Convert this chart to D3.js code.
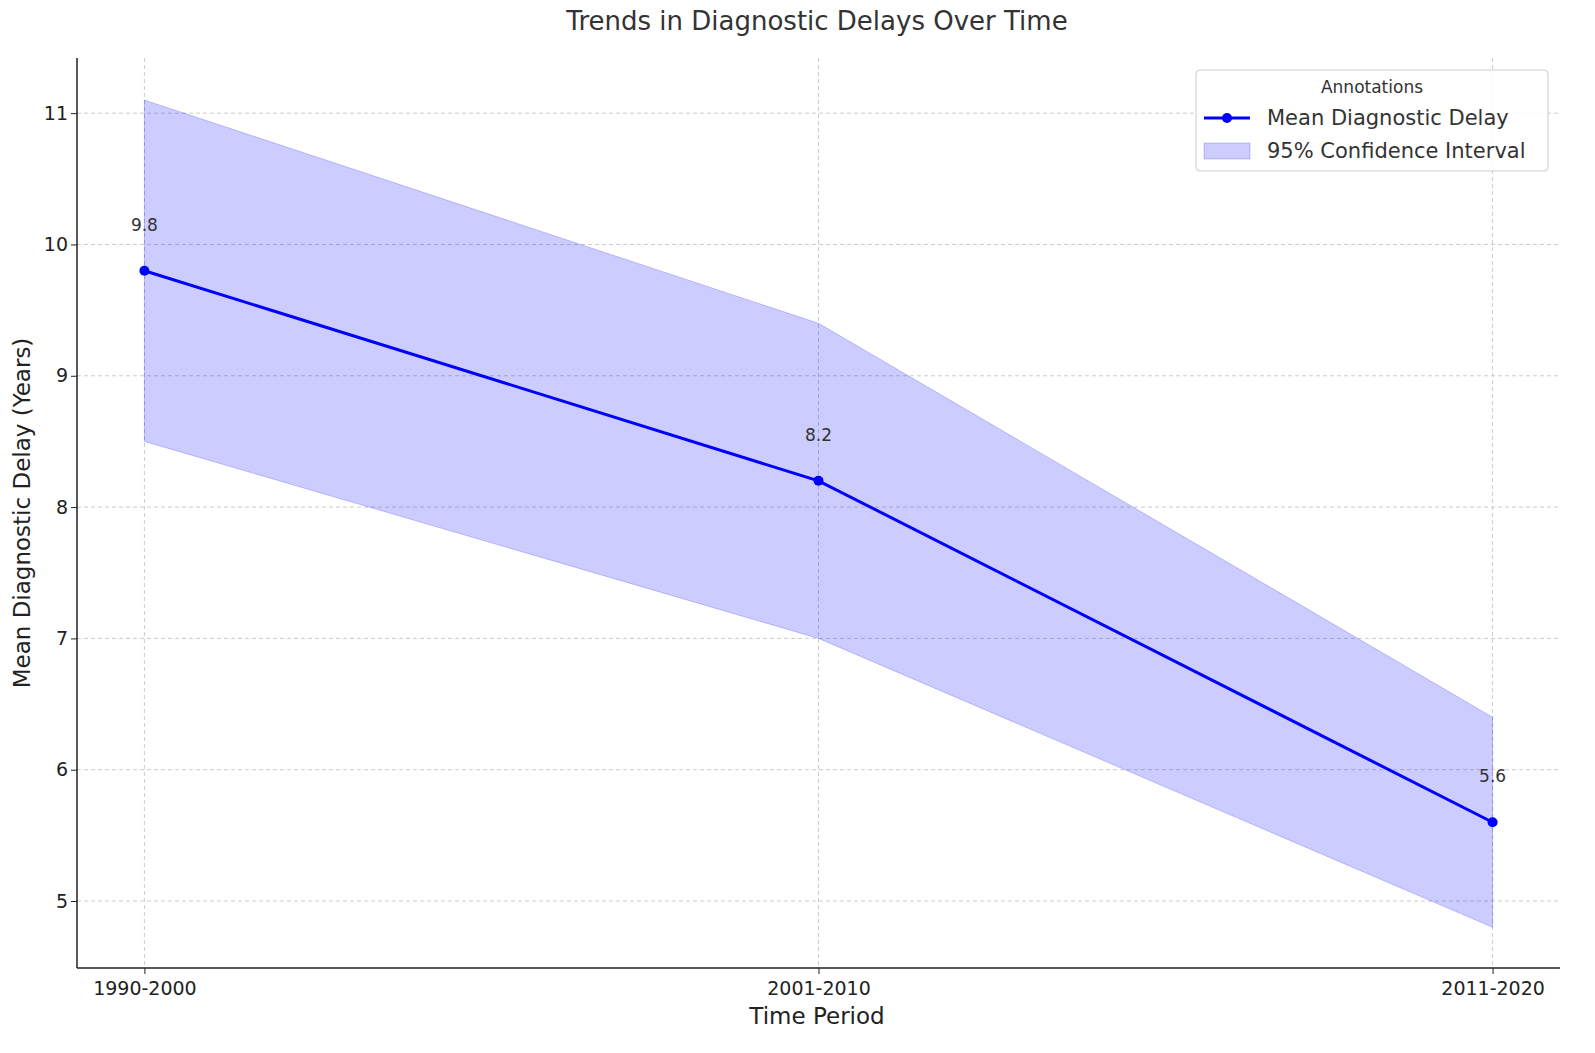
<!DOCTYPE html>
<html><head><meta charset="utf-8">
<script src="https://cdn.jsdelivr.net/npm/d3@7"></script>
<style>html,body{margin:0;padding:0;overflow:hidden;background:#fff;font-family:"DejaVu Sans",sans-serif;}svg{display:block;}</style>
</head><body><svg id="chart" width="1595" height="1053"></svg>
<script>
let periods = ['1990-2000', '2001-2010', '2011-2020'];
let meanDelay = [9.8, 8.2, 5.6];
let ciLower = [8.5, 7.0, 4.8];
let ciUpper = [11.1, 9.4, 6.4];
let yTicks = [5, 6, 7, 8, 9, 10, 11];

let svg = d3.select('#chart');
let m = {left: 77, right: 1560, top: 58, bottom: 968};
let data = periods.map((p, i) => ({p: p, v: meanDelay[i], lo: ciLower[i], hi: ciUpper[i]}));

let x = d3.scalePoint().domain(periods).range([m.left, m.right]).padding(0.1);
let y = d3.scaleLinear().domain([4.49, 11.42]).range([m.bottom, m.top]);

/* grid */
svg.append('g').selectAll('line').data(yTicks).join('line')
    .attr('x1', m.left).attr('x2', m.right)
    .attr('y1', d => y(d)).attr('y2', d => y(d))
    .attr('stroke', '#ccc').attr('stroke-dasharray', '4,3');
svg.append('g').selectAll('line').data(periods).join('line')
    .attr('x1', d => x(d)).attr('x2', d => x(d))
    .attr('y1', m.top).attr('y2', m.bottom)
    .attr('stroke', '#ccc').attr('stroke-dasharray', '4,3');

/* confidence band */
svg.append('path').datum(data)
    .attr('d', d3.area().x(d => x(d.p)).y0(d => y(d.lo)).y1(d => y(d.hi)))
    .attr('fill', 'rgba(0,0,255,0.2)').attr('stroke', 'rgba(0,0,255,0.2)');

/* mean line */
svg.append('path').datum(data)
    .attr('d', d3.line().x(d => x(d.p)).y(d => y(d.v)))
    .attr('fill', 'none').attr('stroke', '#0000ff').attr('stroke-width', 3);
svg.append('g').selectAll('circle').data(data).join('circle')
    .attr('cx', d => x(d.p)).attr('cy', d => y(d.v)).attr('r', 5).attr('fill', '#0000ff');
svg.append('g').selectAll('text').data(data).join('text')
    .attr('x', d => x(d.p)).attr('y', d => y(d.v) - 40)
    .attr('text-anchor', 'middle').attr('font-size', 17).attr('fill', '#333')
    .text(d => d.v.toFixed(1));

/* axes */
let xAxis = svg.append('g').attr('transform', `translate(0,${m.bottom})`)
    .call(d3.axisBottom(x).tickSizeOuter(0).tickSize(6));
xAxis.select('.domain').attr('d', `M${m.left},0H${m.right}`);
let yAxis = svg.append('g').attr('transform', `translate(${m.left},0)`)
    .call(d3.axisLeft(y).tickValues(yTicks).tickFormat(d3.format('d')).tickSizeOuter(0).tickSize(6));
yAxis.select('.domain').attr('d', `M0,${m.top}V${m.bottom}`);
[xAxis, yAxis].forEach(a => {
    a.selectAll('text').attr('font-size', 19).attr('fill', '#222').attr('font-family', 'DejaVu Sans');
    a.select('.domain').attr('stroke', '#222').attr('stroke-width', 1.5);
    a.selectAll('.tick line').attr('stroke', '#222');
});
xAxis.selectAll('text').attr('dy', '0.95em');

svg.append('text').attr('x', 817).attr('y', 30).attr('text-anchor', 'middle')
    .attr('font-size', 26).attr('fill', '#333').text('Trends in Diagnostic Delays Over Time');
svg.append('text').attr('x', 817).attr('y', 1024).attr('text-anchor', 'middle')
    .attr('font-size', 23).attr('fill', '#222').text('Time Period');
svg.append('text').attr('transform', 'translate(30,513) rotate(-90)').attr('text-anchor', 'middle')
    .attr('font-size', 23).attr('fill', '#222').text('Mean Diagnostic Delay (Years)');

/* legend */
let lg = svg.append('g').attr('transform', 'translate(1196,70)');
lg.append('rect').attr('width', 352).attr('height', 101).attr('rx', 4)
    .attr('fill', '#fff').attr('fill-opacity', 0.85).attr('stroke', '#ccc');
lg.append('text').attr('x', 176).attr('y', 23).attr('text-anchor', 'middle')
    .attr('font-size', 17).attr('fill', '#333').text('Annotations');
lg.append('line').attr('x1', 8).attr('x2', 54).attr('y1', 48).attr('y2', 48)
    .attr('stroke', '#0000ff').attr('stroke-width', 3);
lg.append('circle').attr('cx', 31).attr('cy', 48).attr('r', 5).attr('fill', '#0000ff');
lg.append('text').attr('x', 71).attr('y', 55).attr('font-size', 21).attr('fill', '#333').text('Mean Diagnostic Delay');
lg.append('rect').attr('x', 8).attr('y', 73).attr('width', 46).attr('height', 16)
    .attr('fill', 'rgba(0,0,255,0.2)').attr('stroke', 'rgba(0,0,255,0.2)');
lg.append('text').attr('x', 71).attr('y', 88).attr('font-size', 21).attr('fill', '#333').text('95% Confidence Interval');
</script></body></html>
